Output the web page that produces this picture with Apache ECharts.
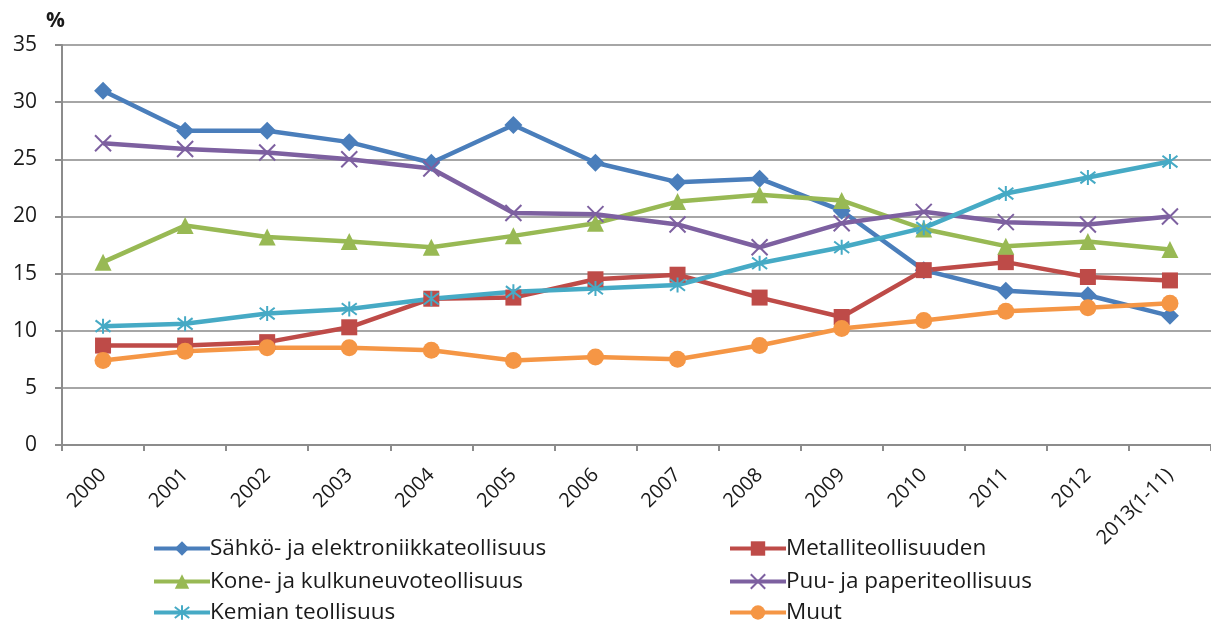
<!DOCTYPE html>
<html><head><meta charset="utf-8">
<script src="https://cdn.jsdelivr.net/npm/echarts@6/dist/echarts.min.js"></script>
<style>html,body{margin:0;padding:0;background:#fff}#c{width:1211px;height:624px}</style>
</head><body><div id="c"></div>
<script>
const categories = ['2000','2001','2002','2003','2004','2005','2006','2007','2008','2009','2010','2011','2012','2013(1-11)'];
const sahko   = [31.0,27.5,27.5,26.5,24.7,28.0,24.7,23.0,23.3,20.5,15.3,13.5,13.1,11.3];
const metalli = [8.7,8.7,9.0,10.3,12.8,12.9,14.5,14.9,12.9,11.2,15.3,16.0,14.7,14.4];
const kone    = [16.0,19.2,18.2,17.8,17.3,18.3,19.4,21.3,21.9,21.4,18.9,17.4,17.8,17.1];
const puu     = [26.4,25.9,25.6,25.0,24.2,20.3,20.2,19.3,17.3,19.4,20.4,19.5,19.3,20.0];
const kemian  = [10.4,10.6,11.5,11.9,12.8,13.4,13.7,14.0,15.9,17.3,19.0,22.0,23.4,24.8];
const muut    = [7.4,8.2,8.5,8.5,8.3,7.4,7.7,7.5,8.7,10.2,10.9,11.7,12.0,12.4];
const names = ['Sähkö- ja elektroniikkateollisuus','Metalliteollisuuden','Kone- ja kulkuneuvoteollisuus','Puu- ja paperiteollisuus','Kemian teollisuus','Muut'];
const yTicks = [0,5,10,15,20,25,30,35];

const FONT = '"Open Sans",sans-serif';
const xPath = 'path://M0,0 L10,10 M10,0 L0,10';
const starPath = 'path://M0,0 L10,10 M10,0 L0,10 M5,-1.5 L5,11.5';

function ser(name, data, color, symbol, size, stroke){
  const s = {name, type:'line', data, symbol, symbolSize:size, showSymbol:true,
    lineStyle:{color, width:4.5}, itemStyle:{color}, z:2};
  if (stroke){ s.itemStyle = {color:'rgba(0,0,0,0)', borderColor:color, borderWidth:2}; }
  return s;
}
const legendPos = [[152,537],[728,537],[152,570],[728,570],[152,601],[728,601]];
const legends = names.map((n,i)=>({
  data:[n], orient:'horizontal', left:legendPos[i][0], top:legendPos[i][1],
  itemWidth:56, itemHeight:18, padding:0,
  lineStyle:{width:4},
  textStyle:{fontFamily:FONT, fontSize:22.5, color:'#1a1a1a', padding:[0,0,0,-5]}
}));
const chart = echarts.init(document.getElementById('c'));
chart.setOption({
  animation:false,
  title:{text:'%', left:41, top:6, textStyle:{fontFamily:FONT, fontSize:21, fontWeight:'bold', color:'#1a1a1a'}},
  grid:{left:62, right:-13, top:45, bottom:179},
  xAxis:{type:'category', data:categories, boundaryGap:true,
    axisLine:{lineStyle:{color:'#8c8c8c', width:2}},
    axisTick:{show:true, length:6, lineStyle:{color:'#8c8c8c', width:2}},
    axisLabel:{rotate:45, fontFamily:FONT, fontSize:20, color:'#1a1a1a', margin:27, interval:0}},
  yAxis:{type:'value', min:yTicks[0], max:yTicks[yTicks.length-1], interval:5,
    axisLine:{show:true, lineStyle:{color:'#8c8c8c', width:2}},
    axisTick:{show:true, length:7, lineStyle:{color:'#8c8c8c', width:2}},
    splitLine:{lineStyle:{color:'#a6a6a6', width:2}},
    axisLabel:{fontFamily:FONT, fontSize:21, color:'#1a1a1a', margin:25}},
  legend:legends,
  series:[
    ser(names[0], sahko, '#4A7EBB', 'diamond', 18),
    ser(names[1], metalli, '#BE4B48', 'rect', 16),
    ser(names[2], kone, '#98B954', 'triangle', 17),
    ser(names[3], puu, '#7D60A0', xPath, 16, true),
    ser(names[4], kemian, '#46AAC5', starPath, 15, true),
    ser(names[5], muut, '#F59645', 'circle', 17)
  ]
});
</script></body></html>
